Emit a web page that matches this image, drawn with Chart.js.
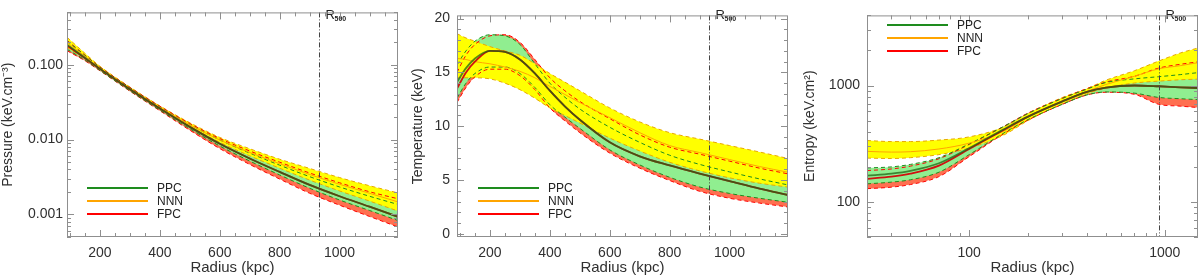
<!DOCTYPE html>
<html>
<head>
<meta charset="utf-8">
<script src="https://cdn.jsdelivr.net/npm/chart.js@4.4.0/dist/chart.umd.min.js"></script>
<style>
    body { margin: 0; background: #fff; width: 1200px; height: 278px; overflow: hidden; position: relative; }
    canvas { position: absolute; top: 0; }
</style>
</head>
<body>
<canvas id="pressureChart" width="400" height="278" style="left:0px"></canvas>
<canvas id="tempChart" width="400" height="278" style="left:400px"></canvas>
<canvas id="entropyChart" width="400" height="278" style="left:800px"></canvas>
<script>
// Data
const modelNames = ['PPC', 'NNN', 'FPC'];
const r500 = 930;

// Pressure (keV cm^-3)
const radiusP = [90, 150, 200, 300, 400, 500, 600, 700, 800, 900, 1000, 1100, 1195];
const ppcLoP  = [0.161, 0.1157, 0.084, 0.0449, 0.0248, 0.01397, 0.00821, 0.00517, 0.00337, 0.00224, 0.00156, 0.00113, 0.00083];
const ppcMidP = [0.185, 0.124, 0.088, 0.047, 0.026, 0.0148, 0.0088, 0.0056, 0.0037, 0.00248, 0.00175, 0.00127, 0.00093];
const ppcHiP  = [0.208, 0.133, 0.092, 0.049, 0.0272, 0.0159, 0.0099, 0.0066, 0.00455, 0.0032, 0.00233, 0.00175, 0.00136];
const nnnLoP  = [0.169, 0.121, 0.087, 0.0465, 0.026, 0.01514, 0.00921, 0.00607, 0.00415, 0.00288, 0.00206, 0.00151, 0.00111];
const nnnMidP = [0.198, 0.130, 0.090, 0.0481, 0.0269, 0.01587, 0.00987, 0.00673, 0.00477, 0.00342, 0.00253, 0.00192, 0.00147];
const nnnHiP  = [0.233, 0.142, 0.0954, 0.0504, 0.0282, 0.0168, 0.0107, 0.00755, 0.00547, 0.00412, 0.00311, 0.00242, 0.00194];
const fpcLoP  = [0.154, 0.113, 0.0831, 0.0444, 0.0243, 0.01335, 0.00758, 0.00466, 0.00297, 0.00192, 0.00133, 0.00094, 0.00068];
const fpcMidP = [0.18, 0.122, 0.088, 0.047, 0.026, 0.0148, 0.0088, 0.0056, 0.0037, 0.00248, 0.00175, 0.00127, 0.00093];
const fpcHiP  = [0.212, 0.134, 0.0932, 0.0498, 0.0279, 0.0164, 0.01034, 0.00705, 0.00499, 0.00358, 0.00265, 0.00201, 0.00162];

// Temperature (keV)
const radiusT = [90, 120, 150, 200, 250, 300, 350, 400, 450, 500, 600, 700, 800, 900, 1000, 1100, 1195];
const ppcLoT  = [12.6, 14.0, 14.9, 15.5, 15.5, 14.9, 13.6, 12.0, 10.85, 9.8, 7.8, 6.4, 5.25, 4.35, 3.75, 3.3, 2.93];
const ppcMidT = [14.1, 15.4, 16.3, 17.0, 16.9, 16.2, 14.9, 13.3, 11.85, 10.6, 8.5, 7.2, 6.35, 5.6, 4.9, 4.2, 3.6];
const ppcHiT  = [15.7, 17.0, 17.9, 18.5, 18.4, 17.6, 15.8, 14.0, 12.7, 11.6, 9.9, 8.5, 7.3, 6.45, 5.75, 5.1, 4.54];
const nnnLoT  = [14.5, 14.5, 14.5, 14.4, 14.0, 13.4, 12.6, 11.7, 11.0, 10.3, 8.9, 7.7, 6.65, 5.85, 5.2, 4.7, 4.34];
const nnnMidT = [16.3, 16.2, 16.0, 15.8, 15.5, 15.1, 14.5, 13.7, 12.95, 12.2, 10.8, 9.4, 8.2, 7.55, 6.9, 6.25, 5.72];
const nnnHiT  = [18.6, 18.2, 17.9, 17.4, 17.0, 16.6, 15.8, 14.9, 14.1, 13.3, 11.7, 10.4, 9.4, 8.8, 8.2, 7.6, 7.0];
const fpcLoT  = [12.2, 13.6, 14.6, 15.3, 15.3, 14.7, 13.4, 11.7, 10.5, 9.4, 7.5, 6.1, 4.95, 3.95, 3.3, 2.85, 2.49];
const fpcMidT = [13.5, 15.0, 16.0, 17.0, 16.9, 16.2, 14.9, 13.3, 11.85, 10.6, 8.5, 7.2, 6.35, 5.6, 4.9, 4.2, 3.6];
const fpcHiT  = [15.0, 16.6, 17.6, 18.4, 18.5, 17.8, 16.2, 14.5, 13.3, 12.3, 10.7, 9.2, 8.05, 7.4, 6.75, 6.1, 5.57];

// Entropy (keV cm^2)
const radiusK = [30, 40, 50, 70, 100, 150, 200, 300, 400, 500, 700, 930, 1200, 1480];
const ppcLoK  = [143, 148, 155, 180, 255, 390, 510, 690, 830, 880, 860, 790, 770, 756];
const ppcMidK = [168, 175, 185, 215, 290, 420, 540, 730, 880, 960, 1000, 985, 965, 952];
const ppcHiK  = [196, 200, 210, 240, 315, 445, 575, 775, 930, 1060, 1140, 1190, 1240, 1290];
const nnnLoK  = [238, 236, 240, 255, 290, 375, 500, 700, 850, 950, 1050, 1090, 1120, 1135];
const nnnMidK = [272, 268, 270, 285, 320, 405, 535, 740, 890, 1020, 1200, 1390, 1480, 1570];
const nnnHiK  = [337, 330, 330, 340, 362, 440, 575, 790, 940, 1110, 1340, 1620, 1900, 2100];
const fpcLoK  = [130, 134, 141, 165, 245, 385, 505, 690, 830, 875, 840, 690, 665, 647];
const fpcMidK = [158, 165, 175, 205, 285, 415, 540, 730, 880, 960, 1000, 985, 965, 952];
const fpcHiK  = [186, 192, 203, 235, 312, 445, 580, 780, 940, 1070, 1200, 1410, 1520, 1596];

// Tick labels
const radiusTicks = [200, 400, 600, 800, 1000];
const radiusLogTicks = [100, 1000];
const pressureTicks = [0.001, 0.01, 0.1];
const tempTicks = [0, 5, 10, 15, 20];
const entropyTicks = [100, 1000];

// Chart Defaults
Chart.defaults.font.family = "'Liberation Sans', Arial, sans-serif";
Chart.defaults.font.size = 14;
Chart.defaults.color = '#303030';

const colors = {
    ppcLine: '#1E8C1E', nnnLine: '#FFA500', fpcLine: '#FF0000',
    ppcFill: '#90EE90', nnnFill: '#FFFF00', fpcFill: '#FF6F50'
};
const legendColors = [colors.ppcLine, colors.nnnLine, colors.fpcLine];

function toPoints(radii, values) {
    return values.map((v, i) => ({ x: radii[i], y: v }));
}

// bands: yellow over green over red, dashed bounds and central lines on top
function profileDatasets(radii, ppc, nnn, fpc) {
    const line = (vals, color, width, dash) => ({
        data: toPoints(radii, vals), borderColor: color, borderWidth: width, borderDash: dash,
        pointRadius: 0, fill: false, cubicInterpolationMode: 'monotone'
    });
    const edge = vals => ({
        data: toPoints(radii, vals), borderColor: 'transparent', borderWidth: 0,
        pointRadius: 0, fill: false, cubicInterpolationMode: 'monotone'
    });
    const area = (vals, color) => Object.assign(edge(vals), { fill: '-1', backgroundColor: color });
    return [
        line(ppc[1], 'rgba(30, 100, 20, 0.75)', 1.8, []),
        line(fpc[1], '#d01010', 1.8, []),
        line(nnn[1], colors.nnnLine, 1, []),
        line(ppc[2], colors.ppcLine, 1, [4, 3]),
        line(ppc[0], colors.ppcLine, 1, [4, 3]),
        line(fpc[2], colors.fpcLine, 1, [4, 3]),
        line(fpc[0], colors.fpcLine, 1, [4, 3]),
        line(nnn[2], '#E8A800', 1, [4, 3]),
        line(nnn[0], '#E8A800', 1, [4, 3]),
        edge(nnn[0]), area(nnn[2], colors.nnnFill),
        edge(ppc[0]), area(ppc[2], colors.ppcFill),
        edge(fpc[0]), area(fpc[2], colors.fpcFill)
    ];
}

function tickValues(scale, minor) {
    const majors = scale.ticks.map(t => t.value);
    const out = majors.map(v => [v, 7]);
    if (minor === 'log') {
        for (let d = Math.floor(Math.log10(scale.min)); d <= Math.ceil(Math.log10(scale.max)); d++) {
            for (let m = 2; m <= 9; m++) {
                const v = m * Math.pow(10, d);
                if (v >= scale.min && v <= scale.max) out.push([v, 4]);
            }
        }
    } else {
        for (let v = Math.ceil(scale.min / minor) * minor; v <= scale.max; v += minor) {
            if (!majors.some(m => Math.abs(m - v) < 1e-9)) out.push([v, 4]);
        }
    }
    return out;
}

// Frame with inward ticks, R500 marker and legend
const frameTicks = {
    id: 'frameTicks',
    afterDraw(chart, args, opts) {
        const { ctx, chartArea: a } = chart;
        const xs = chart.scales.x, ys = chart.scales.y;
        ctx.save();

        const rx = Math.round(xs.getPixelForValue(r500)) + 0.5;
        ctx.strokeStyle = '#444';
        ctx.lineWidth = 1;
        ctx.setLineDash([5, 2, 1, 2]);
        ctx.beginPath(); ctx.moveTo(rx, a.top); ctx.lineTo(rx, a.bottom); ctx.stroke();
        ctx.setLineDash([]);
        ctx.fillStyle = '#222';
        ctx.textAlign = 'left';
        ctx.textBaseline = 'alphabetic';
        ctx.font = "13px 'Liberation Sans', Arial";
        ctx.fillText('R', rx + 6, 19);
        ctx.font = "bold 7px 'Liberation Sans', Arial";
        ctx.fillText('500', rx + 15, 21);

        ctx.strokeStyle = '#8f8f8f';
        ctx.strokeRect(a.left + 0.5, a.top + 0.5, a.right - a.left - 1, a.bottom - a.top - 1);
        ctx.beginPath();
        tickValues(xs, opts.xMinor).forEach(([v, len]) => {
            const px = Math.round(xs.getPixelForValue(v)) + 0.5;
            ctx.moveTo(px, a.bottom); ctx.lineTo(px, a.bottom - len);
            ctx.moveTo(px, a.top); ctx.lineTo(px, a.top + len);
        });
        tickValues(ys, opts.yMinor).forEach(([v, len]) => {
            const py = Math.round(ys.getPixelForValue(v)) + 0.5;
            ctx.moveTo(a.left, py); ctx.lineTo(a.left + len, py);
            ctx.moveTo(a.right, py); ctx.lineTo(a.right - len, py);
        });
        ctx.stroke();

        ctx.font = "12px 'Liberation Sans', Arial";
        ctx.textBaseline = 'middle';
        modelNames.forEach((name, i) => {
            const y = opts.legend.y + i * 13;
            ctx.strokeStyle = legendColors[i];
            ctx.lineWidth = 2;
            ctx.beginPath(); ctx.moveTo(opts.legend.x, y); ctx.lineTo(opts.legend.x + 61, y); ctx.stroke();
            ctx.fillStyle = '#222';
            ctx.fillText(name, opts.legend.x + 70, y + 1);
        });
        ctx.restore();
    }
};

function panelOptions(cfg) {
    return {
        responsive: false,
        animation: false,
        layout: { padding: { top: 3, right: cfg.padRight, left: 0, bottom: 0 } },
        plugins: {
            legend: { display: false },
            tooltip: { enabled: false },
            frameTicks: cfg.frame
        },
        scales: {
            x: {
                type: cfg.xType, min: cfg.xMin, max: cfg.xMax,
                afterFit: s => { s.height = 41; },
                afterBuildTicks: s => { s.ticks = cfg.xTicks.map(v => ({ value: v })); },
                grid: { display: false, drawTicks: false },
                border: { display: false },
                ticks: { padding: 8, maxRotation: 0, autoSkip: false, callback: v => String(v) },
                title: { display: true, text: 'Radius (kpc)', font: { size: 15 }, padding: { top: 0, bottom: 1 } }
            },
            y: {
                type: cfg.yType, min: cfg.yMin, max: cfg.yMax,
                afterFit: s => { s.width = cfg.yWidth; },
                afterBuildTicks: s => { s.ticks = cfg.yTicks.map(v => ({ value: v })); },
                grid: { display: false, drawTicks: false },
                border: { display: false },
                ticks: { padding: cfg.yPad, autoSkip: false, callback: cfg.yFormat },
                title: { display: true, text: cfg.yTitle, padding: { top: cfg.yTitlePad, bottom: 0 } }
            }
        }
    };
}

// 1. Pressure
new Chart(document.getElementById('pressureChart').getContext('2d'), {
    type: 'line',
    data: { datasets: profileDatasets(radiusP, [ppcLoP, ppcMidP, ppcHiP], [nnnLoP, nnnMidP, nnnHiP], [fpcLoP, fpcMidP, fpcHiP]) },
    options: panelOptions({
        padRight: 2, xType: 'linear', xMin: 90, xMax: 1195, xTicks: radiusTicks,
        yType: 'logarithmic', yMin: 0.0005, yMax: 0.5, yTicks: pressureTicks, yWidth: 67, yPad: 4,
        yFormat: v => v.toFixed(3), yTitle: 'Pressure (keV.cm⁻³)', yTitlePad: 0,
        frame: { xMinor: 50, yMinor: 'log', legend: { x: 87, y: 188 } }
    }),
    plugins: [frameTicks]
});

// 2. Temperature
new Chart(document.getElementById('tempChart').getContext('2d'), {
    type: 'line',
    data: { datasets: profileDatasets(radiusT, [ppcLoT, ppcMidT, ppcHiT], [nnnLoT, nnnMidT, nnnHiT], [fpcLoT, fpcMidT, fpcHiT]) },
    options: panelOptions({
        padRight: 12, xType: 'linear', xMin: 90, xMax: 1195, xTicks: radiusTicks,
        yType: 'linear', yMin: -0.3, yMax: 20.3, yTicks: tempTicks, yWidth: 57, yPad: 7,
        yFormat: v => String(v), yTitle: 'Temperature (keV)', yTitlePad: 10,
        frame: { xMinor: 50, yMinor: 1, legend: { x: 78, y: 188 } }
    }),
    plugins: [frameTicks]
});

// 3. Entropy
new Chart(document.getElementById('entropyChart').getContext('2d'), {
    type: 'line',
    data: { datasets: profileDatasets(radiusK, [ppcLoK, ppcMidK, ppcHiK], [nnnLoK, nnnMidK, nnnHiK], [fpcLoK, fpcMidK, fpcHiK]) },
    options: panelOptions({
        padRight: 2, xType: 'logarithmic', xMin: 30, xMax: 1480, xTicks: radiusLogTicks,
        yType: 'logarithmic', yMin: 50, yMax: 4000, yTicks: entropyTicks, yWidth: 67, yPad: 7,
        yFormat: v => String(v), yTitle: 'Entropy (keV.cm²)', yTitlePad: 2,
        frame: { xMinor: 'log', yMinor: 'log', legend: { x: 87, y: 25 } }
    }),
    plugins: [frameTicks]
});
</script>
</body>
</html>
